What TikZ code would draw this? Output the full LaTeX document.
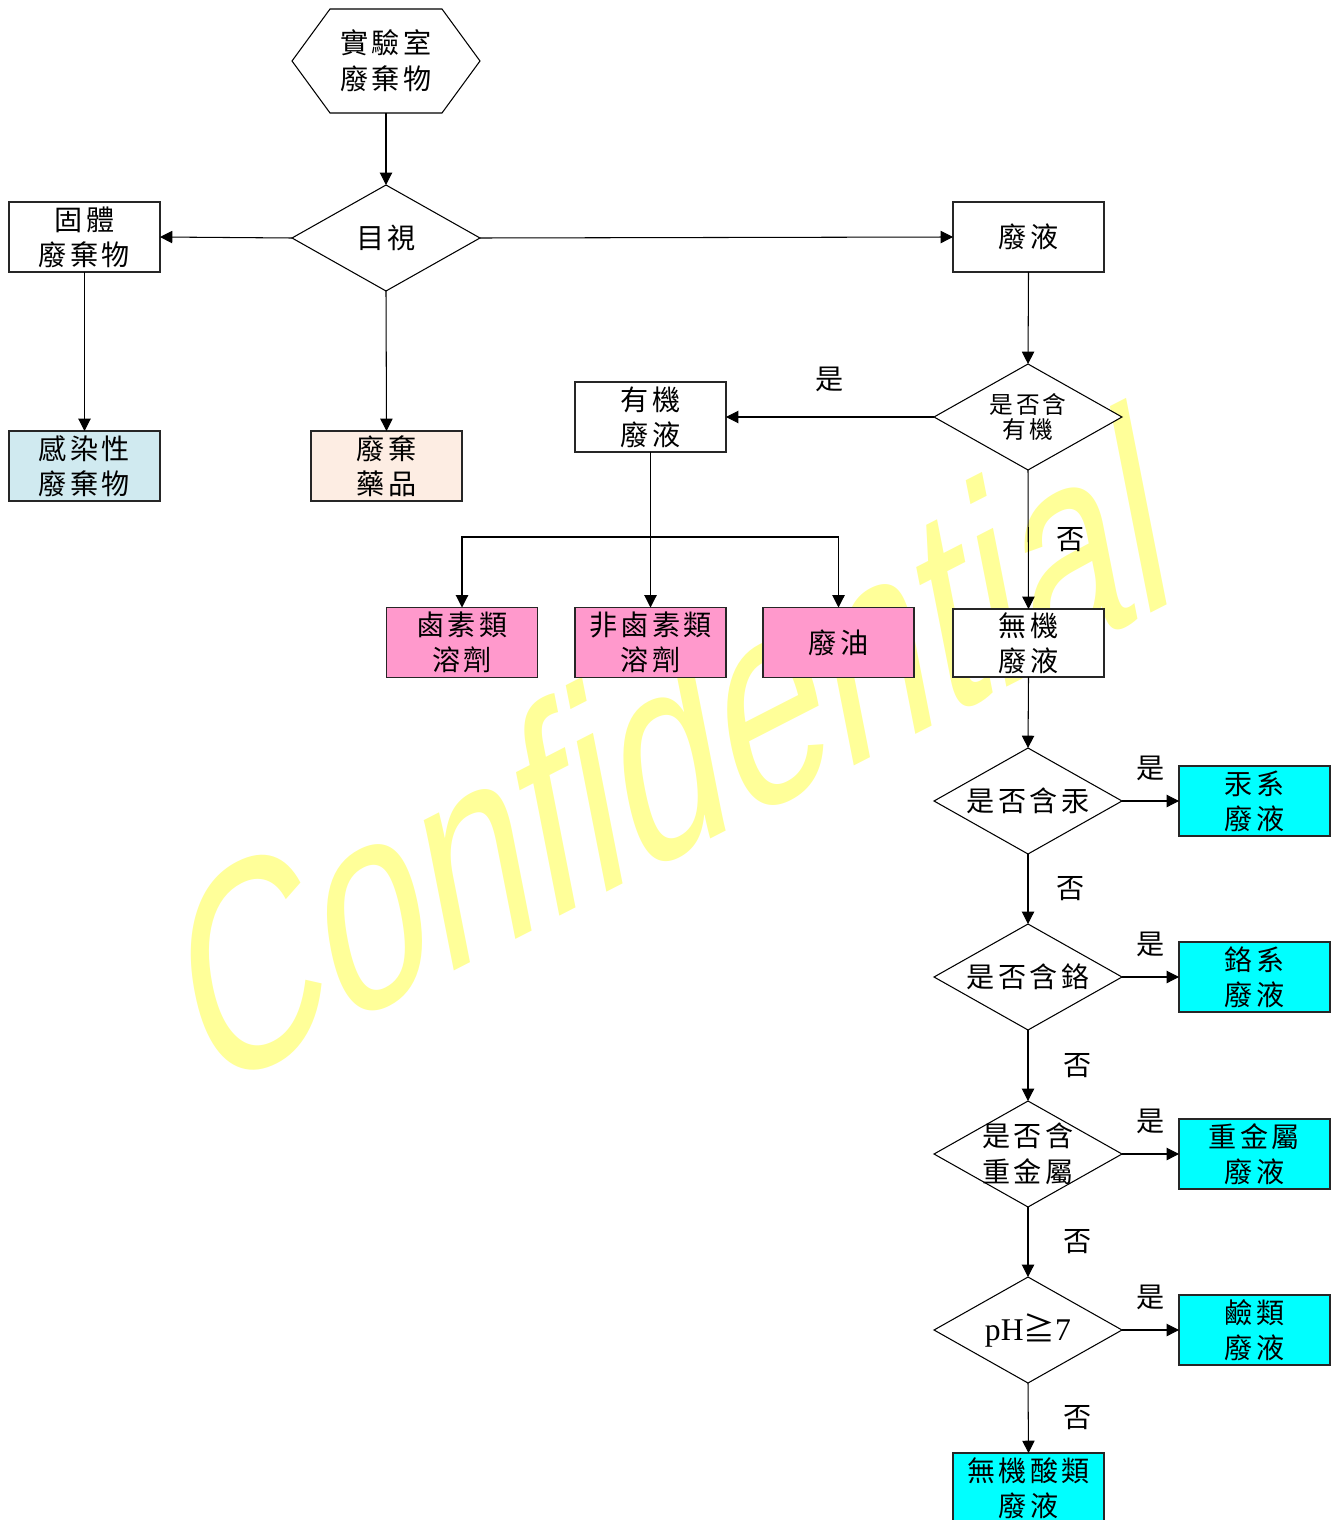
\documentclass[tikz,border=0pt]{standalone}
\usepackage{fontspec}
\setmainfont{Liberation Serif}
\newfontfamily\cjk[LetterSpace=12]{Noto Sans CJK TC}
\newfontfamily\wmfont{Liberation Sans}
\usepackage{tikz}
\usetikzlibrary{arrows.meta,shapes.geometric,calc,positioning}
\definecolor{wmyellow}{RGB}{255,255,153}
\definecolor{infectblue}{RGB}{208,234,240}
\definecolor{drugpeach}{RGB}{253,237,227}
\definecolor{orgpink}{RGB}{255,153,204}
\definecolor{inorgcyan}{RGB}{0,255,255}
\tikzstyle{link}    =[draw, line width=0.6pt,
                      -{Triangle[length=7pt,width=7pt]}]
\tikzstyle{box}     =[rectangle, draw=black!85, fill=white, line width=0.7pt,
                      minimum width=3.02cm, minimum height=1.4cm,
                      inner sep=0pt, outer sep=0pt, align=center,
                      font=\cjk\fontsize{16}{20}\selectfont]
\tikzstyle{hexa}    =[rectangle, minimum width=2.24cm, minimum height=2.08cm,
                      inner sep=0pt, outer sep=0pt, align=center,
                      font=\cjk\fontsize{16}{20.5}\selectfont]
\tikzstyle{decision}=[diamond, draw, fill=white, line width=0.6pt,
                      minimum width=3.76cm, minimum height=2.12cm,
                      inner sep=0pt, outer sep=0pt]
\tikzstyle{dtext}   =[align=center, inner sep=0pt,
                      font=\cjk\fontsize{16}{20.5}\selectfont]
\tikzstyle{ans}     =[inner sep=0pt, font=\cjk\fontsize{16}{20}\selectfont]

\begin{document}
\begin{tikzpicture}[x=0.02cm, y=-0.02cm]
    \useasboundingbox (0,0) rectangle (1340,1520);
    \clip (0,0) rectangle (1340,1520);

    % watermark behind everything
    \begin{scope}[shift={(205,1098)}, cm={1.050,0.538,-0.319,1.622,(0,0)}]
        \node[transform shape, anchor=base west, inner sep=0pt, text=wmyellow,
              font=\wmfont\fontsize{100}{100}\selectfont] (wm) at (0,0) {Confidential};
    \end{scope}

    \node[hexa] (lab) at (386,61) {實驗室\\廢棄物};
    \draw[line width=0.6pt] (lab.north west) -- (lab.north east) -- ($(lab.east)+(38,0)$)
        -- (lab.south east) -- (lab.south west) -- ($(lab.west)+(-38,0)$) -- cycle;

    \node[decision, label={[dtext]center:目視}] (visual) at (386,238) {};
    \node[box] (solid)  at (84.5,237)   {固體\\廢棄物};
    \node[box] (liquid) at (1028.5,237) {廢液};
    \node[box, fill=infectblue] (infect) at (84.5,466)  {感染性\\廢棄物};
    \node[box, fill=drugpeach]  (drug)   at (386.5,466) {廢棄\\藥品};

    \node[decision, label={[dtext, font=\cjk\fontsize{13.5}{14.5}\selectfont]center:{是否含\\有機}}] (qorg) at (1028,417) {};
    \node[box] (org) at (650.5,417) {有機\\廢液};
    \node[box, fill=orgpink] (hal)    at (462,642.5)   {鹵素類\\溶劑};
    \node[box, fill=orgpink] (nonhal) at (650.5,642.5) {非鹵素類\\溶劑};
    \node[box, fill=orgpink] (oil)    at (838.5,642.5) {廢油};
    \node[box, minimum height=1.36cm] (inorg) at (1028.5,643) {無機\\廢液};
    \node[box, fill=inorgcyan] (acid) at (1028.5,1488) {無機酸類\\廢液};

    \foreach \q/\a/\y/\qt/\at in {
        qhg/hg/801/{是否含汞}/{汞系\\廢液},
        qcr/cr/977/{是否含鉻}/{鉻系\\廢液},
        qhm/hm/1154/{是否含\\重金屬}/{重金屬\\廢液},
        qph/alk/1330/{\fontsize{18}{20}\selectfont{\rmfamily pH}≧{\rmfamily 7}}/{鹼類\\廢液}}{
        \node[decision, label={[dtext]center:{\qt}}] (\q) at (1028,\y) {};
        \node[box, fill=inorgcyan] (\a) at (1254.5,\y) {\at};
        \draw[link] (\q.east) -- node[ans, above=0.4cm] (yes\q) {是} (\a.west);
    }

    \draw[link] (lab.south) -- (visual.north);
    \draw[link] (visual.west) -- (solid.east);
    \draw[link] (visual.east) -- (liquid.west);
    \draw[link] (visual.south) -- (drug.north);
    \draw[link] (solid.south) -- (infect.north);
    \draw[link] (liquid.south) -- (qorg.north);
    \draw[link] (qorg.west) -- node[ans, above=0.5cm] (yesorg) {是} (org.east);

    \coordinate (split) at (650.5,537);
    \draw[line width=0.6pt] (org.south) -- (split);
    \draw[link] (split) -- (nonhal.north);
    \draw[link] (split) -| (hal.north);
    \draw[link] (split) -| (oil.north);

    \draw[link] (qorg.south) -- node[ans, right=0.56cm] (no1) {否} (inorg.north);
    \draw[link] (inorg.south) -- (qhg.north);
    \draw[link] (qhg.south) -- node[ans, right=0.56cm] (no2) {否} (qcr.north);
    \draw[link] (qcr.south) -- node[ans, right=0.7cm] (no3) {否} (qhm.north);
    \draw[link] (qhm.south) -- node[ans, right=0.7cm] (no4) {否} (qph.north);
    \draw[link] (qph.south) -- node[ans, right=0.7cm] (no5) {否} (acid.north);
\end{tikzpicture}
\end{document}
